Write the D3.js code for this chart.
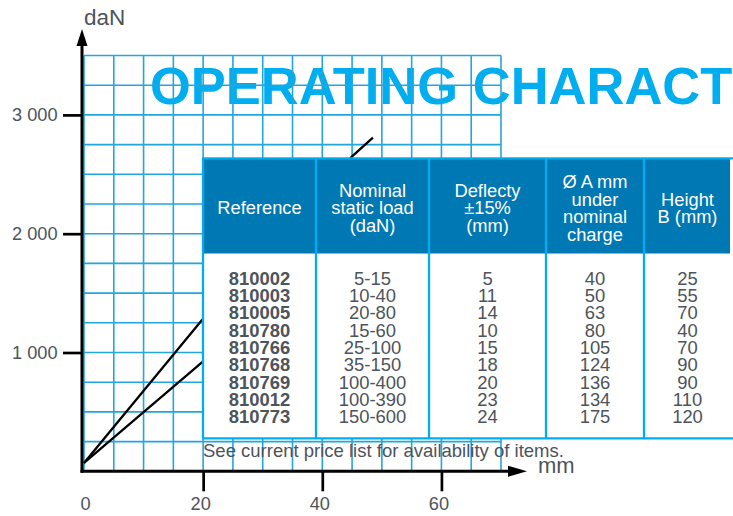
<!DOCTYPE html>
<meta charset="utf-8">
<style>
  body { margin: 0; background: #fff; }
  svg { display: block; font-family: "Liberation Sans", Arial, Helvetica, sans-serif; }
</style>
<body></body>
<script src="https://cdn.jsdelivr.net/npm/d3@7"></script>
<script>

const width = 733;
const height = 516;

// chart data
const xTicks = [0, 20, 40, 60];
const yTicks = [1000, 2000, 3000];
const steepMm  = [0, 19.7, 45.1, 48.5];
const steepDaN = [70, 1268, 2656, 2808];
const softMm   = [0, 19.7, 40];
const softDaN  = [70, 913, 1780];

// table data
const headers = [
  ["Reference"],
  ["Nominal", "static load", "(daN)"],
  ["Deflecty", "\u00b115%", "(mm)"],
  ["\u00d8 A mm", "under", "nominal", "charge"],
  ["Height", "B (mm)"]
];
const references = ["810002", "810003", "810005", "810780", "810766", "810768", "810769", "810012", "810773"];
const loads      = ["5-15", "10-40", "20-80", "15-60", "25-100", "35-150", "100-400", "100-390", "150-600"];
const deflects   = [5, 11, 14, 10, 15, 18, 20, 23, 24];
const diameters  = [40, 50, 63, 80, 105, 124, 136, 134, 175];
const heightsB   = [25, 55, 70, 40, 70, 90, 90, 110, 120];

const cyan = "#00aeef";
const gridColor = "#22a6de";
const textGray = "#4d545b";

const svg = d3.select("body").append("svg")
    .attr("width", width)
    .attr("height", height);

const x = d3.scaleLinear().domain([0, 70]).range([84, 501]);
const y = d3.scaleLinear().domain([0, 3500]).range([471.3, 55.5]);

// title (behind the grid)
svg.append("text")
    .attr("x", 150)
    .attr("y", 104)
    .attr("fill", cyan)
    .attr("font-size", 52.5)
    .attr("font-weight", "bold")
    .text("OPERATING CHARACTERISTICS");

// grid
const grid = svg.append("g")
    .attr("stroke", gridColor)
    .attr("stroke-width", 1.6);
grid.selectAll("line.v")
  .data(d3.range(0, 71, 5))
  .join("line")
    .attr("class", "v")
    .attr("x1", d => x(d)).attr("x2", d => x(d))
    .attr("y1", y(0)).attr("y2", y(3500));
grid.selectAll("line.h")
  .data(d3.range(0, 3501, 250))
  .join("line")
    .attr("class", "h")
    .attr("x1", x(0)).attr("x2", x(70))
    .attr("y1", d => y(d)).attr("y2", d => y(d));

// characteristic lines
const line = d3.line().x(d => x(d[0])).y(d => y(d[1]));
svg.append("g")
    .attr("fill", "none")
    .attr("stroke", "#000")
    .attr("stroke-width", 2.3)
  .selectAll("path")
  .data([d3.zip(steepMm, steepDaN), d3.zip(softMm, softDaN)])
  .join("path")
    .attr("d", line);

// axes
const axisX = 82;
const fmt = d3.formatLocale({decimal: ".", thousands: " ", grouping: [3], currency: ["", ""]}).format(",");

const gy = svg.append("g")
    .attr("transform", `translate(${axisX},0)`)
    .call(d3.axisLeft(y).tickValues(yTicks).tickSize(19).tickPadding(5.5).tickFormat(fmt));
gy.select(".domain").remove();
gy.selectAll(".tick line").attr("stroke", "#000").attr("stroke-width", 2.7);
gy.selectAll(".tick text")
    .attr("font-family", "Liberation Sans, Arial, sans-serif")
    .attr("font-size", 18.2)
    .attr("fill", textGray);

const gx = svg.append("g")
    .attr("transform", `translate(0,${y(0)})`)
    .call(d3.axisBottom(x).tickValues(xTicks).tickSize(20).tickPadding(6).tickFormat(d3.format("d")));
gx.select(".domain").remove();
gx.selectAll(".tick line")
    .attr("stroke", "#000").attr("stroke-width", 2.7)
    .attr("opacity", d => d === 0 ? 0 : 1);
gx.selectAll(".tick text")
    .attr("font-family", "Liberation Sans, Arial, sans-serif")
    .attr("font-size", 18.2)
    .attr("fill", textGray)
    .attr("dx", d => d === 0 ? 1 : -3);

// axis lines with arrows
svg.append("line")
    .attr("x1", axisX).attr("x2", axisX)
    .attr("y1", y(0) + 1.5).attr("y2", 44)
    .attr("stroke", "#000").attr("stroke-width", 3);
svg.append("path")
    .attr("d", `M${axisX},29 L${axisX - 5.5},46 L${axisX + 5.5},46 Z`)
    .attr("fill", "#000");
svg.append("line")
    .attr("x1", axisX - 1.5).attr("x2", 510)
    .attr("y1", y(0)).attr("y2", y(0))
    .attr("stroke", "#000").attr("stroke-width", 3);
svg.append("path")
    .attr("d", `M527,${y(0)} L508,${y(0) - 5.5} L508,${y(0) + 5.5} Z`)
    .attr("fill", "#000");

svg.append("text")
    .attr("x", 84).attr("y", 24.5)
    .attr("font-size", 22.5)
    .attr("fill", textGray)
    .text("daN");
svg.append("text")
    .attr("x", 538).attr("y", 472.5)
    .attr("font-size", 22)
    .attr("fill", textGray)
    .text("mm");

// table
const colEdges = [203, 316, 429, 546, 644, 731];
const tableTop = 158.3, headBottom = 253.5, tableBottom = 438.3;
const table = svg.append("g");

table.append("rect")
    .attr("x", colEdges[0]).attr("y", tableTop)
    .attr("width", width - colEdges[0]).attr("height", tableBottom - tableTop)
    .attr("fill", "#fff");
table.append("rect")
    .attr("x", colEdges[0]).attr("y", tableTop)
    .attr("width", 730 - colEdges[0]).attr("height", headBottom - tableTop)
    .attr("fill", "#0078b3");

const colCenter = i => (colEdges[i] + colEdges[i + 1]) / 2;

table.selectAll("line.sep")
  .data(colEdges.slice(0, 5))
  .join("line")
    .attr("class", "sep")
    .attr("x1", d => d).attr("x2", d => d)
    .attr("y1", tableTop).attr("y2", tableBottom)
    .attr("stroke", cyan).attr("stroke-width", 2.3);
table.selectAll("line.hz")
  .data([tableTop, tableBottom])
  .join("line")
    .attr("class", "hz")
    .attr("x1", colEdges[0] - 1).attr("x2", width)
    .attr("y1", d => d).attr("y2", d => d)
    .attr("stroke", cyan).attr("stroke-width", 2.3);

// header text
const lineH = 17.7;
const headMid = 208;
headers.forEach((lines, i) => {
  table.append("g")
    .selectAll("text")
    .data(lines)
    .join("text")
      .attr("x", colCenter(i))
      .attr("y", (d, j) => headMid + (j - (lines.length - 1) / 2) * lineH)
      .attr("dy", "0.35em")
      .attr("text-anchor", "middle")
      .attr("font-size", 18.3)
      .attr("fill", "#fff")
      .text(d => d);
});

// body text
const rowY = d3.scaleBand().domain(references).range([269.3, 425.3]);
const columns = [references, loads, deflects, diameters, heightsB];
columns.forEach((vals, i) => {
  table.append("g")
    .selectAll("text")
    .data(vals)
    .join("text")
      .attr("x", colCenter(i))
      .attr("y", (d, j) => rowY(references[j]) + rowY.bandwidth() / 2)
      .attr("dy", "0.36em")
      .attr("text-anchor", "middle")
      .attr("font-size", 18.4)
      .attr("font-weight", i === 0 ? "bold" : "normal")
      .attr("fill", textGray)
      .text(d => d);
});

svg.append("text")
    .attr("x", 203).attr("y", 457)
    .attr("font-size", 18.5)
    .attr("fill", textGray)
    .text("See current price list for availability of items.");

</script>
